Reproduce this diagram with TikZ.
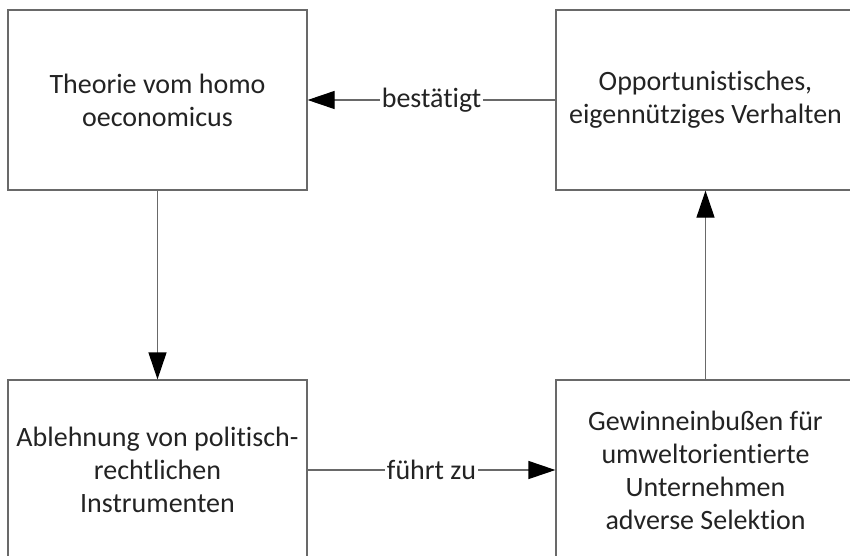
\documentclass[tikz,border=0pt]{standalone}
\usepackage{fontspec}
\setmainfont{Carlito}[Ligatures=NoCommon]
\usetikzlibrary{arrows.meta}
\definecolor{linegray}{RGB}{105,105,105}
\definecolor{textdark}{RGB}{35,35,35}
\begin{document}
\begin{tikzpicture}[x=1pt, y=-1pt,
    box/.style ={draw=linegray, line width=1.2pt, minimum width=299pt, minimum height=180pt,
                 align=center, text=textdark, font=\fontsize{28}{33}\selectfont},
    link/.style ={draw=linegray, line width=1.2pt, -{Triangle[length=27pt, width=18pt, color=black]}},
    linklabel/.style ={fill=white, inner sep=2pt, text=textdark, font=\fontsize{28}{33}\selectfont}]
   \useasboundingbox (0,0) rectangle (850,555);
   \clip (0,0) rectangle (850,555);
   \node[box] (theorie)   at (157.5,100)  {Theorie vom homo\\oeconomicus};
   \node[box] (verhalten) at (705.5,100)  {Opportunistisches,\\eigennütziges Verhalten};
   \node[box] (ablehnung) at (157.5,470)  {Ablehnung von politisch-\\rechtlichen\\Instrumenten};
   \node[box] (gewinn)    at (705.5,470)  {Gewinneinbußen für\\umweltorientierte\\Unternehmen\\adverse Selektion};

   \draw[link] (verhalten) to node[linklabel] {bestätigt} (theorie);
   \draw[link] (theorie) to (ablehnung);
   \draw[link] (ablehnung) to node[linklabel] {führt zu} (gewinn);
   \draw[link] (gewinn) to (verhalten);
\end{tikzpicture}
\end{document}
